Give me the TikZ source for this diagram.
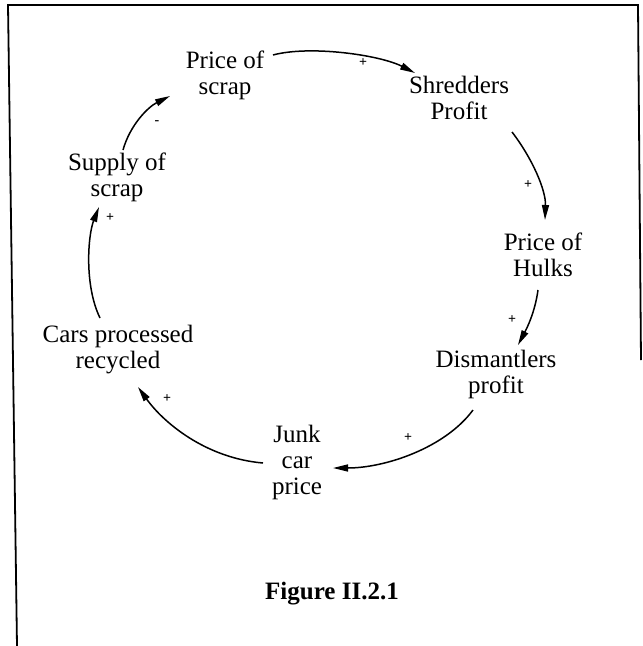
\documentclass[tikz,border=0pt]{standalone}
\usepackage{fontspec}
\setmainfont{Liberation Serif}
\usetikzlibrary{arrows.meta}
\begin{document}
\begin{tikzpicture}[x=1pt,y=-1pt,
  var/.style={align=center,inner sep=0pt,font=\fontsize{25}{26}\selectfont},
  sgn/.style={inner sep=0pt,font=\fontsize{14}{14}\selectfont\bfseries},
  link/.style={line width=1.5pt,-{Triangle[length=15pt,width=7pt]}},
  frame/.style={line width=1.8pt}]
\useasboundingbox (0,0) rectangle (643,646);
\draw[frame] (17,646) -- (8,5) -- (638,5) -- (641,360);
\node[var] (ps)  at (225,75)  {Price of\\scrap};
\node[var] (sp)  at (459,98)  {Shredders\\Profit};
\node[var] (ph)  at (543,255) {Price of\\Hulks};
\node[var] (dp)  at (496,374) {Dismantlers\\profit};
\node[var] (jc)  at (297,462) {Junk\\car\\price};
\node[var] (cp)  at (118,350) {Cars processed\\recycled};
\node[var] (sup) at (117,177) {Supply of\\scrap};
\node[font=\fontsize{25}{26}\selectfont\bfseries] (fig) at (332,594) {Figure II.2.1};
\draw[link] ([shift={(48,-20)}]ps.center) .. controls +(37,-10) and +(-35,-18) .. ([shift={(-44,-25)}]sp.center);
\draw[link] ([shift={(53,34)}]sp.center) .. controls +(20,26) and +(1,-30) .. ([shift={(2,-35)}]ph.center);
\draw[link] ([shift={(-5,35)}]ph.center) .. controls +(-3,22) and +(9,-17) .. ([shift={(22,-29)}]dp.center);
\draw[link] ([shift={(-23,36)}]dp.center) .. controls +(-28,38) and +(52,0) .. ([shift={(36,6)}]jc.center);
\draw[link] ([shift={(-34,1)}]jc.center) .. controls +(-58,-5) and +(25,35) .. ([shift={(20,37)}]cp.center);
\draw[link] ([shift={(-18,-32)}]cp.center) .. controls +(-16,-33) and +(-11,28) .. ([shift={(-18,30)}]sup.center);
\draw[link] ([shift={(6,-27)}]sup.center) .. controls +(7,-25) and +(-22,11) .. ([shift={(-55,21)}]ps.center);
\node[sgn] (s1) at (363,63)  {+};
\node[sgn] (s2) at (528,185) {+};
\node[sgn] (s3) at (512,320) {+};
\node[sgn] (s4) at (408,438) {+};
\node[sgn] (s5) at (167,399) {+};
\node[sgn] (s6) at (110,218) {+};
\node[sgn] (s7) at (157,123) {-};
\end{tikzpicture}
\end{document}
